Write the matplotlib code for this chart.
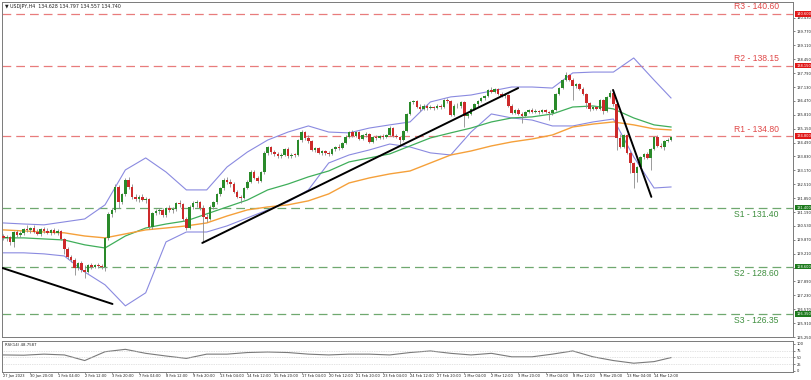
import matplotlib
matplotlib.use("Agg")
import matplotlib.pyplot as plt
import numpy as np

# ---------------- data ----------------
opens = [130.05,129.95,130.00,129.75,130.25,130.10,130.20,130.40,130.35,130.45,
         130.25,130.15,130.40,130.30,130.20,130.35,130.20,130.30,129.90,129.45,
         129.05,128.90,128.55,128.75,128.45,128.35,128.65,128.60,128.66,128.62,
         128.56,129.95,131.10,131.30,132.40,131.65,132.05,132.70,132.40,131.90,
         131.80,131.90,131.75,131.80,130.50,131.15,131.25,131.30,131.05,131.40,
         131.30,131.35,131.60,131.55,130.85,130.45,131.45,131.60,131.65,131.40,
         130.95,130.85,131.45,131.65,132.05,132.35,132.70,132.60,132.50,132.15,
         131.90,131.85,132.35,132.60,133.10,132.80,132.65,133.10,134.00,134.28,
         134.05,133.95,133.85,133.90,134.20,133.85,133.92,133.90,134.60,135.00,
         134.70,134.55,134.15,134.25,134.00,134.10,134.00,133.95,134.20,134.30,
         134.25,134.45,134.75,135.00,134.80,135.00,134.65,134.85,134.90,134.50,
         134.75,134.70,134.80,134.75,134.85,135.20,134.80,134.75,134.60,135.05,
         135.85,136.40,136.45,136.20,136.10,136.25,136.15,136.20,136.15,136.25,
         136.20,136.50,136.45,135.80,136.25,136.22,136.40,135.75,135.85,136.10,
         136.30,136.45,136.60,136.70,137.00,136.90,137.05,136.80,136.70,136.75,
         136.25,135.90,136.05,135.85,135.75,135.95,136.05,135.95,136.00,135.92,
         136.02,135.95,135.88,136.05,136.80,137.10,137.45,137.70,137.45,137.20,
         137.25,137.05,136.80,136.35,136.10,136.20,136.10,136.50,136.00,136.65,
         136.85,136.30,134.70,134.30,134.85,134.00,133.50,133.05,133.35,133.80,
         133.95,133.75,134.20,134.75,134.35,134.30,134.55,134.628]
highs = [130.15,130.10,130.05,130.30,130.35,130.30,130.45,130.55,130.50,130.55,
         130.40,130.45,130.50,130.45,130.40,130.45,130.40,130.35,129.95,129.55,
         129.15,129.00,128.80,128.85,128.65,128.70,128.75,128.72,128.75,128.70,
         130.00,131.20,131.40,132.50,132.48,132.10,132.80,132.85,132.50,132.05,
         132.00,132.05,131.90,131.85,131.20,131.35,131.40,131.40,131.45,131.50,
         131.45,131.65,131.75,131.60,130.95,131.50,131.70,131.75,131.70,131.50,
         131.10,131.50,131.70,132.10,132.40,132.80,132.85,132.75,132.60,132.25,
         132.00,132.40,132.70,133.20,133.20,132.90,133.15,134.10,134.35,134.35,
         134.15,134.05,134.00,134.25,134.30,134.00,134.00,134.65,135.09,135.05,
         134.85,134.62,134.30,134.30,134.15,134.15,134.10,134.25,134.35,134.40,
         134.50,134.85,135.05,135.10,135.05,135.05,134.90,134.98,134.95,134.80,
         134.85,134.85,134.88,134.92,135.30,135.25,134.90,134.80,135.10,135.90,
         136.48,136.52,136.50,136.30,136.30,136.30,136.28,136.25,136.30,136.30,
         136.55,136.60,136.50,136.30,136.35,136.45,136.45,135.90,136.15,136.35,
         136.50,136.65,136.75,137.05,137.15,137.10,137.10,136.90,136.85,136.80,
         136.30,136.10,136.15,135.95,136.00,136.10,136.12,136.08,136.05,136.08,
         136.08,136.00,136.10,136.85,137.15,137.50,137.86,137.75,137.55,137.30,
         137.30,137.15,136.85,136.40,136.25,136.25,136.55,136.55,136.70,136.99,
         136.90,136.35,134.90,134.90,134.90,134.10,133.55,133.40,133.85,134.00,
         134.05,134.25,134.80,134.85,134.45,134.60,134.70,134.797]
lows = [129.85,129.80,129.60,129.55,130.00,130.00,130.10,130.25,130.20,130.20,
        130.10,130.05,130.20,130.15,130.10,130.15,130.10,129.85,129.20,128.95,
        128.80,128.20,128.45,128.35,128.05,128.30,128.50,128.52,128.55,128.50,
        128.40,129.85,130.95,131.20,131.40,131.55,131.95,132.30,131.80,131.70,
        131.65,131.70,131.60,130.40,130.40,131.05,131.10,130.95,130.95,131.20,
        131.15,131.25,131.45,130.75,130.35,130.40,131.35,131.45,131.30,129.77,
        130.70,130.80,131.35,131.55,131.95,132.25,132.50,132.40,132.10,131.85,
        131.60,131.80,132.30,132.55,132.75,132.55,132.60,133.00,133.90,133.95,
        133.85,133.75,133.75,133.85,133.75,133.75,133.80,133.85,134.50,134.60,
        134.45,134.10,134.05,133.95,133.90,133.90,133.85,133.90,134.10,134.15,
        134.20,134.40,134.70,134.75,134.75,134.60,134.60,134.75,134.45,134.45,
        134.62,134.65,134.68,134.70,134.80,134.75,134.70,134.38,134.55,135.00,
        135.80,136.30,136.15,136.00,136.05,136.05,136.08,136.05,136.10,136.10,
        136.15,136.35,135.75,135.75,136.15,136.15,135.25,135.65,135.80,136.05,
        136.20,136.40,136.50,136.65,136.85,136.85,136.75,136.65,136.60,136.20,
        135.85,135.85,135.80,135.41,135.70,135.90,135.90,135.88,135.85,135.88,
        135.90,135.56,135.80,136.00,136.75,137.05,137.40,137.40,136.51,137.10,
        137.00,136.75,136.12,136.00,136.05,136.05,136.05,135.85,135.95,136.60,
        136.25,134.14,134.25,134.25,133.95,133.03,132.32,132.63,133.30,133.70,
        133.70,133.19,134.15,134.30,134.25,134.15,134.50,134.557]
closes = [129.95,130.00,129.75,130.25,130.10,130.20,130.40,130.35,130.45,130.25,
          130.15,130.40,130.30,130.20,130.35,130.20,130.30,129.90,129.45,129.05,
          128.90,128.55,128.75,128.45,128.35,128.65,128.60,128.66,128.62,128.56,
          129.95,131.10,131.30,132.40,131.65,132.05,132.70,132.40,131.90,131.80,
          131.90,131.75,131.80,130.50,131.15,131.25,131.30,131.05,131.40,131.30,
          131.35,131.60,131.55,130.85,130.45,131.45,131.60,131.65,131.40,130.95,
          130.85,131.45,131.65,132.05,132.35,132.70,132.60,132.50,132.15,131.90,
          131.85,132.35,132.60,133.10,132.80,132.65,133.10,134.00,134.28,134.05,
          133.95,133.85,133.90,134.20,133.85,133.92,133.90,134.60,135.00,134.70,
          134.55,134.15,134.25,134.00,134.10,134.00,133.95,134.20,134.30,134.25,
          134.45,134.75,135.00,134.80,135.00,134.65,134.85,134.90,134.50,134.75,
          134.70,134.80,134.75,134.85,135.20,134.80,134.75,134.60,135.05,135.85,
          136.40,136.45,136.20,136.10,136.25,136.15,136.20,136.15,136.25,136.20,
          136.50,136.45,135.80,136.25,136.22,136.40,135.75,135.85,136.10,136.30,
          136.45,136.60,136.70,137.00,136.90,137.05,136.80,136.70,136.75,136.25,
          135.90,136.05,135.85,135.75,135.95,136.05,135.95,136.00,135.92,136.02,
          135.95,135.88,136.05,136.80,137.10,137.45,137.70,137.45,137.20,137.25,
          137.05,136.80,136.35,136.10,136.20,136.10,136.50,136.00,136.65,136.85,
          136.30,134.70,134.30,134.85,134.00,133.50,133.05,133.35,133.80,133.95,
          133.75,134.20,134.75,134.35,134.30,134.55,134.63,134.740]

# indicator samples (candle index -> value)
ind_idx = [0, 6, 12, 18, 24, 30, 36, 42, 48, 54, 60, 66, 72, 78, 84, 90, 96,
           102, 108, 114, 120, 126, 132, 138, 144, 150, 156, 162, 168, 174,
           180, 186, 192, 197]
bb_upper = [130.67,130.62,130.58,130.72,130.86,131.53,133.19,133.76,133.09,132.24,
            132.24,133.33,134.04,134.61,134.99,135.28,134.99,134.95,135.18,135.33,
            135.47,136.42,136.66,136.75,136.94,137.13,137.13,137.08,137.80,137.84,
            137.84,138.51,137.46,136.61]
bb_lower = [129.25,129.25,129.20,129.10,128.34,127.73,126.73,127.35,129.77,130.24,
            130.24,130.53,130.91,131.29,131.67,132.24,133.52,133.90,134.14,134.42,
            134.28,134.00,133.90,134.99,135.85,135.66,135.56,135.28,135.28,135.47,
            135.61,133.81,132.33,132.38]
ma_green = [129.96,129.96,129.91,129.86,129.63,129.48,130.05,130.43,130.62,130.77,
            131.10,131.43,131.76,132.24,132.52,132.86,133.14,133.57,133.76,133.95,
            134.33,134.71,134.95,135.18,135.47,135.66,135.71,135.85,136.18,136.23,
            136.09,135.66,135.33,135.23]
ma_orange = [130.34,130.29,130.24,130.20,130.05,129.96,130.15,130.34,130.43,130.53,
             130.67,131.00,131.29,131.43,131.53,131.72,132.05,132.57,132.81,133.00,
             133.14,133.52,133.90,134.09,134.33,134.52,134.66,134.85,135.23,135.37,
             135.47,135.33,135.14,135.09]
rsi_vals = [59,58,62,59,38,71,80,65,55,46,62,62,68,70,68,62,59,62,62,59,68,74,65,
            59,65,52,52,62,74,52,38,28,34,49]

level_names = ["R3", "R2", "R1", "S1", "S2", "S3"]
level_vals = [140.60, 138.15, 134.80, 131.40, 128.60, 126.35]

trend_x = [[-0.3, 32.2], [58.7, 151.9], [179.9, 191.2]]
trend_y = [[128.53, 126.82], [129.72, 137.08], [136.99, 131.91]]

x_labels = ["27 Jan 2023", "30 Jan 20:00", "1 Feb 04:00", "2 Feb 12:00", "3 Feb 20:00",
            "7 Feb 04:00", "8 Feb 12:00", "9 Feb 20:00", "13 Feb 04:00", "14 Feb 12:00",
            "15 Feb 20:00", "17 Feb 04:00", "20 Feb 12:00", "21 Feb 20:00", "23 Feb 04:00",
            "24 Feb 12:00", "27 Feb 20:00", "1 Mar 04:00", "2 Mar 12:00", "3 Mar 20:00",
            "7 Mar 04:00", "8 Mar 12:00", "9 Mar 20:00", "13 Mar 04:00", "14 Mar 12:00"]
x_label_step = 8

price_ticks = [125.25 + 0.66 * k for k in range(24)]
rsi_ticks = [0, 25, 50, 75, 100]

# ---------------- figure ----------------
W, H = 811, 380
fig = plt.figure(figsize=(W / 100, H / 100), dpi=100)
fig.patch.set_facecolor("white")

def fx(px):
    return px / W

def fy(py):
    return 1 - py / H

ax = fig.add_axes([fx(2), fy(337), fx(791), 335 / H])
rax = fig.add_axes([fx(2), fy(372), fx(791), 31 / H])

n = len(closes)
idx = np.arange(n)
XMIN, XMAX = -0.4, 233
ax.set_xlim(XMIN, XMAX)
ax.set_ylim(125.26, 141.17)

o = np.array(opens); h = np.array(highs); l = np.array(lows); c = np.array(closes)
up = c >= o
GREEN = "#2a8a2a"
RED = "#cc2a2a"
ax.vlines(idx, l, h, color="#8a8a8a", lw=0.6, zorder=3)
body = np.maximum(np.abs(c - o), 0.03)
bottoms = np.minimum(o, c)
ax.bar(idx[up], body[up], bottom=bottoms[up], width=0.76, color=GREEN, lw=0, zorder=4)
ax.bar(idx[~up], body[~up], bottom=bottoms[~up], width=0.76, color=RED, lw=0, zorder=4)

# indicators
ax.plot(ind_idx, bb_upper, color="#8a8ae0", lw=0.8, zorder=2)
ax.plot(ind_idx, bb_lower, color="#8a8ae0", lw=0.8, zorder=2)
ax.plot(ind_idx, ma_green, color="#3fae5a", lw=0.9, zorder=2)
ax.plot(ind_idx, ma_orange, color="#f5a03a", lw=1.0, zorder=2)

# trend lines
for tx, ty in zip(trend_x, trend_y):
    ax.plot(tx, ty, color="black", lw=1.4, zorder=5, solid_capstyle="round")

# levels
for name, v in zip(level_names, level_vals):
    is_r = name.startswith("R")
    lc = "#e87c7c" if is_r else "#6fa86f"
    tc = "#e04848" if is_r else "#3f8f3f"
    bc = "#e01818" if is_r else "#1d7a1d"
    ax.axhline(v, color=lc, lw=0.9, dashes=(7, 4), zorder=1)
    ax.text(228.8, v + (0.12 if is_r else -0.12), f"{name} - {v:.2f}",
            color=tc, fontsize=6.2, family="Liberation Sans",
            ha="right", va="bottom" if is_r else "top", zorder=6)
    ax.text(1.004, v, f"{v:.3f}", transform=ax.get_yaxis_transform(),
            fontsize=2.6, color="white", va="center", ha="left",
            bbox=dict(boxstyle="square,pad=0.25", fc=bc, ec="none"), zorder=7,
            clip_on=False)

# axes styling
ax.yaxis.tick_right()
ax.set_yticks(price_ticks)
ax.set_yticklabels([f"{t:.3f}" for t in price_ticks])
ax.tick_params(axis="y", labelsize=2.6, length=1.5, width=0.4, pad=1, colors="#222222")
ax.set_xticks([])
for s in ax.spines.values():
    s.set_color("#7a7a7a")
    s.set_linewidth(0.7)

ax.text(0.004, 0.993, "\u25bc USDJPY,H4  134.628 134.797 134.557 134.740",
        transform=ax.transAxes, fontsize=3.4, va="top", ha="left", color="#222222")

# RSI panel
rsi_x = ind_idx
rax.set_xlim(XMIN, XMAX)
rax.set_ylim(-4.9, 111.2)
rax.plot(rsi_x, rsi_vals, color="#7a7a7a", lw=0.8)
for lv in [25, 50, 75]:
    rax.axhline(lv, color="#c8c8c8", lw=0.5, ls=(0, (1, 1.5)))
rax.yaxis.tick_right()
rax.set_yticks(rsi_ticks)
rax.set_yticklabels([str(t) for t in rsi_ticks])
rax.tick_params(axis="y", labelsize=2.6, length=1.5, width=0.4, pad=1, colors="#222222")
rax.set_xticks([i * x_label_step for i in range(len(x_labels))])
rax.set_xticklabels([])
rax.tick_params(axis="x", length=1.5, width=0.4, colors="#555555")
for i, lab in enumerate(x_labels):
    rax.text(i * x_label_step, -0.07, lab, transform=rax.get_xaxis_transform(),
             fontsize=2.6, ha="left", va="top", color="#222222")
for s in rax.spines.values():
    s.set_color("#7a7a7a")
    s.set_linewidth(0.7)
rax.text(0.004, 0.95, "RSI(14) 48.7587", transform=rax.transAxes, fontsize=2.8,
         va="top", ha="left", color="#222222")

fig.savefig("out.png", dpi=100, facecolor="white")
